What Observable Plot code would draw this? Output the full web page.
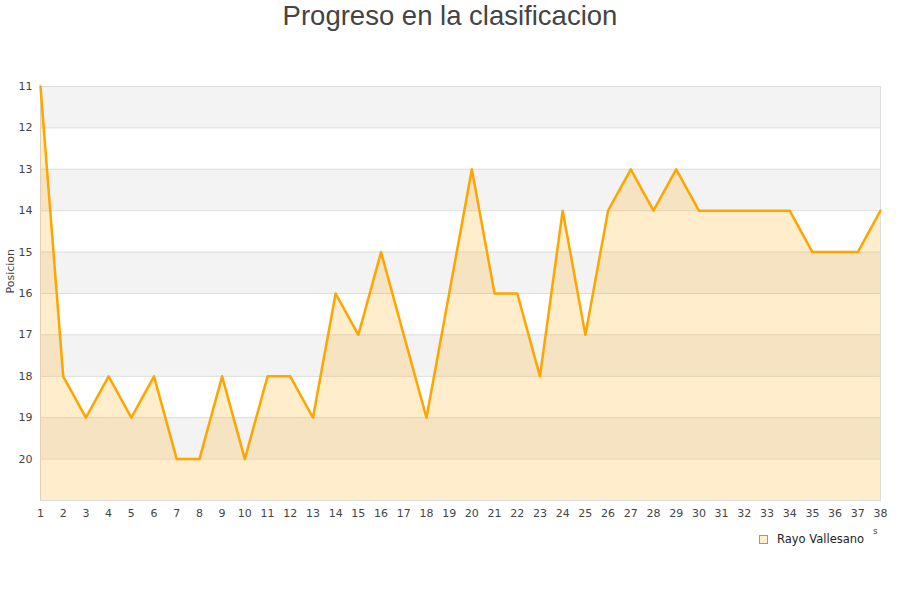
<!DOCTYPE html>
<html>
<head>
<meta charset="utf-8">
<script src="https://cdn.jsdelivr.net/npm/d3@7"></script>
<script src="https://cdn.jsdelivr.net/npm/@observablehq/plot@0.6"></script>
<style>
  html, body { margin: 0; padding: 0; background: #fff; }
  #wrap { position: relative; width: 900px; height: 600px; font-family: "DejaVu Sans", sans-serif; }
  #title { position: absolute; left: 0; top: 0; width: 900px; text-align: center; font-family: "Liberation Sans", Arial, sans-serif; font-size: 27.5px; color: #444; line-height: 32px; }
  #legend { position: absolute; left: 759px; top: 532px; font-size: 11.5px; color: #222; display: flex; align-items: center; }
  #legend .sw { width: 7px; height: 7px; background: #ffedcc; border: 1px solid #999; margin-right: 9px; }
  #chart { position: absolute; left: 0; top: 0; }
  #s { position: absolute; left: 873px; top: 526px; font-size: 9px; color: #444; }
</style>
</head>
<body>
<div id="wrap">
  <div id="chart"></div>
  <div id="title">Progreso en la clasificacion</div>
  <div id="legend"><div class="sw"></div><span>Rayo Vallesano</span></div>
  <div id="s">s</div>
</div>
<script>
const jornadas = [1,2,3,4,5,6,7,8,9,10,11,12,13,14,15,16,17,18,19,20,21,22,23,24,25,26,27,28,29,30,31,32,33,34,35,36,37,38];
const posiciones = [11,18,19,18,19,18,20,20,18,20,18,18,19,16,17,15,17,19,16,13,16,16,18,14,17,14,13,14,13,14,14,14,14,14,15,15,15,14];
const yTicks = [11,12,13,14,15,16,17,18,19,20];
const bandas = [[11,12],[13,14],[15,16],[17,18],[19,20]];
const fondo = 21;

const data = jornadas.map((j, i) => ({jornada: j, pos: posiciones[i]}));
const bands = bandas.map(([a, b]) => ({a, b}));

const chart = Plot.plot({
  width: 900,
  height: 600,
  marginLeft: 40,
  marginRight: 20,
  marginTop: 86,
  marginBottom: 100,
  style: {fontFamily: "DejaVu Sans, sans-serif", fontSize: "11px", color: "#444", background: "transparent"},
  x: {domain: [1, 38]},
  y: {domain: [fondo, 11]},
  marks: [
    Plot.rect(bands, {x1: 1, x2: 38, y1: "a", y2: "b", fill: "#f3f3f3"}),
    Plot.ruleY(yTicks, {stroke: "#dddddd", strokeWidth: 1}),
    Plot.frame({stroke: "#dddddd"}),
    Plot.areaY(data, {x: "jornada", y1: fondo, y2: "pos", fill: "#ffa500", fillOpacity: 0.2}),
    Plot.line(data, {x: "jornada", y: "pos", stroke: "#ffa500", strokeWidth: 2.5}),
    Plot.axisX({ticks: jornadas, tickSize: 0, tickPadding: 9, tickFormat: d => String(d), label: null}),
    Plot.axisY({ticks: yTicks, tickSize: 0, tickPadding: 8, tickFormat: d => String(d), label: null}),
    Plot.text(["Posicion"], {frameAnchor: "left", rotate: -90, dx: -30, fontSize: 11, fill: "#444"})
  ]
});
document.getElementById("chart").appendChild(chart);
</script>
</body>
</html>
